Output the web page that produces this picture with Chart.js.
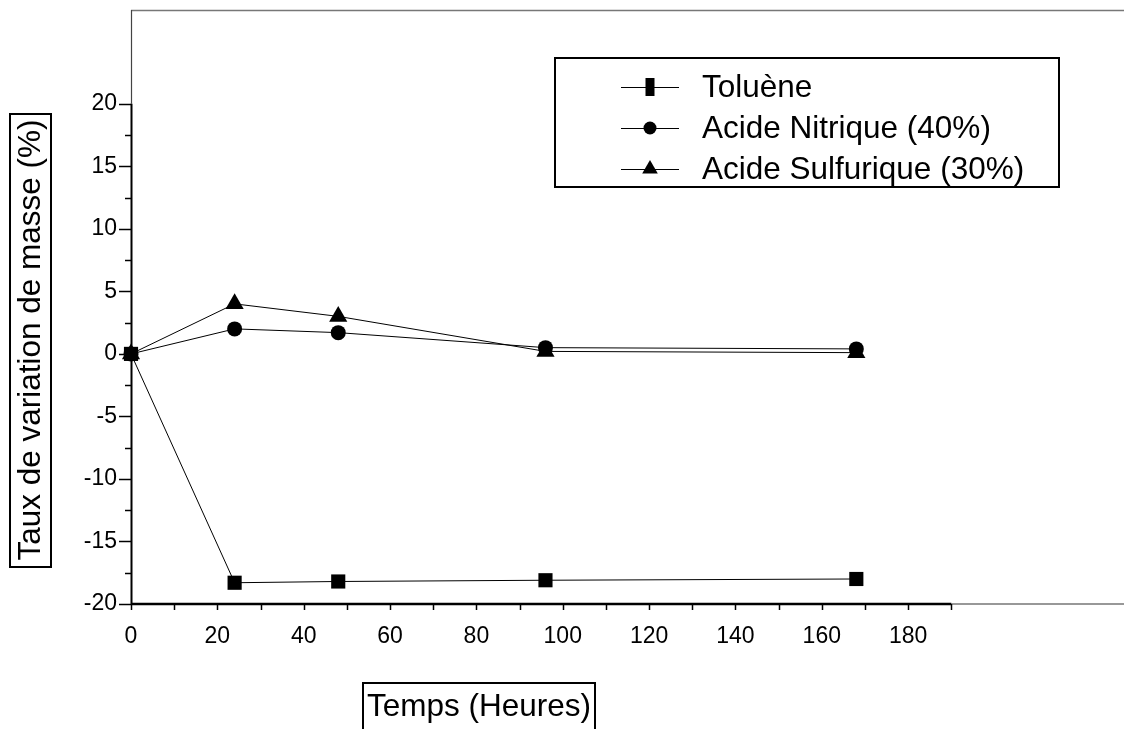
<!DOCTYPE html>
<html>
<head>
<meta charset="utf-8">
<script src="https://cdn.jsdelivr.net/npm/chart.js@4.4.1/dist/chart.umd.min.js"></script>
<style>
  html, body { margin: 0; padding: 0; background: #fff; }
  #wrap { width: 1124px; height: 729px; }
</style>
</head>
<body>
<div id="wrap"><canvas id="chart" width="1124" height="729"></canvas></div>
<script>
// Mesures : taux de variation de masse (%) en fonction du temps (heures)
const heures = [0, 24, 48, 96, 168];
const toluene = [0, -18.3, -18.2, -18.1, -18.0];
const acideNitrique = [0, 2.0, 1.7, 0.5, 0.4];
const acideSulfurique = [0, 4.0, 3.0, 0.2, 0.1];
const seriesLabels = ['Toluène', 'Acide Nitrique (40%)', 'Acide Sulfurique (30%)'];

// graduations (majeures étiquetées, mineures sans texte)
const xTicks = [0, 10, 20, 30, 40, 50, 60, 70, 80, 90, 100, 110, 120, 130, 140, 150, 160, 170, 180, 190];
const yTicks = [-20, -17.5, -15, -12.5, -10, -7.5, -5, -2.5, 0, 2.5, 5, 7.5, 10, 12.5, 15, 17.5, 20];
const xTitle = 'Temps (Heures)';
const yTitle = 'Taux de variation de masse (%)';

const FONT = '"Liberation Sans", Arial, sans-serif';

function points(values) {
    return heures.map((h, i) => ({ x: h, y: values[i] }));
}

function ligne(ctx, x1, y1, x2, y2) {
    ctx.beginPath();
    ctx.moveTo(x1, y1);
    ctx.lineTo(x2, y2);
    ctx.stroke();
}

// Symbole de légende
function symbole(ctx, style, x, y) {
    ctx.fillStyle = '#000';
    ctx.beginPath();
    if (style === 'rect') {
        ctx.rect(x - 4.5, y - 9, 9, 18);
    } else if (style === 'circle') {
        ctx.arc(x, y, 6.5, 0, Math.PI * 2);
    } else {
        ctx.moveTo(x, y - 9);
        ctx.lineTo(x + 7.8, y + 4.5);
        ctx.lineTo(x - 7.8, y + 4.5);
        ctx.closePath();
    }
    ctx.fill();
}

// pas de marge automatique autour des étiquettes extrêmes
function sansMarge(s) {
    s.paddingTop = 0;
    s.paddingBottom = 0;
    s.paddingLeft = 0;
    s.paddingRight = 0;
}

// Axes, graduations et cadre
const cadre = {
    id: 'cadre',
    beforeDatasetsDraw(chart) {
        const { ctx, chartArea: a, scales: { x, y } } = chart;
        ctx.save();
        ctx.lineCap = 'butt';

        // bord supérieur
        ctx.strokeStyle = '#777';
        ctx.lineWidth = 1.5;
        ligne(ctx, a.left, a.top + 0.5, a.right, a.top + 0.5);

        // axe X : épais jusqu'à la dernière graduation, fin ensuite
        const xEnd = x.getPixelForValue(xTicks[xTicks.length - 1]);
        ctx.strokeStyle = '#333';
        ctx.lineWidth = 1.2;
        ligne(ctx, xEnd, a.bottom, a.right, a.bottom);
        ctx.strokeStyle = '#000';
        ctx.lineWidth = 2.5;
        ligne(ctx, a.left, a.bottom, xEnd, a.bottom);

        // axe Y : épais jusqu'à 20, fin au-dessus
        const yEnd = y.getPixelForValue(yTicks[yTicks.length - 1]);
        ctx.strokeStyle = '#444';
        ctx.lineWidth = 1.2;
        ligne(ctx, a.left + 0.5, a.top, a.left + 0.5, yEnd);
        ctx.strokeStyle = '#000';
        ctx.lineWidth = 2;
        ligne(ctx, a.left + 0.5, yEnd, a.left + 0.5, a.bottom);

        // graduations
        ctx.lineWidth = 1.5;
        x.ticks.forEach(t => {
            const px = Math.round(x.getPixelForValue(t.value)) + 0.5;
            ligne(ctx, px, a.bottom, px, a.bottom + 6);
        });
        y.ticks.forEach(t => {
            const py = Math.round(y.getPixelForValue(t.value)) + 0.5;
            const len = t.value % 5 === 0 ? 12 : 6;
            ligne(ctx, a.left - len, py, a.left, py);
        });
        ctx.restore();
    },
    afterDraw(chart) {
        const { ctx } = chart;
        ctx.save();
        ctx.strokeStyle = '#000';
        ctx.fillStyle = '#000';
        ctx.font = '31.5px ' + FONT;
        ctx.textBaseline = 'middle';

        // titre de l'axe X dans son encadré
        ctx.lineWidth = 2;
        ctx.textAlign = 'center';
        ctx.fillText(xTitle, 479, 707);
        ctx.beginPath();
        ctx.moveTo(363, 740);
        ctx.lineTo(363, 683);
        ctx.lineTo(595, 683);
        ctx.lineTo(595, 740);
        ctx.stroke();

        // titre de l'axe Y
        ctx.strokeRect(10, 114, 41, 453);
        ctx.save();
        ctx.translate(31, 340);
        ctx.rotate(-Math.PI / 2);
        ctx.fillText(yTitle, 0, 0);
        ctx.restore();

        // légende
        ctx.lineWidth = 2;
        ctx.strokeRect(555, 58, 504, 129);
        ctx.textAlign = 'left';
        ctx.lineWidth = 1;
        chart.data.datasets.forEach((ds, i) => {
            const ry = 87 + i * 41;
            ctx.strokeStyle = '#000';
            ligne(ctx, 621, ry + 0.5, 679, ry + 0.5);
            symbole(ctx, ds.pointStyle, 650, ry);
            ctx.fillStyle = '#000';
            ctx.fillText(ds.label, 702, ry + 1);
        });
        ctx.restore();
    }
};

const serie = (label, values, style, radius) => ({
    label: label,
    data: points(values),
    showLine: true,
    borderColor: '#000',
    borderWidth: 1,
    backgroundColor: '#000',
    pointStyle: style,
    pointRadius: radius,
    pointHoverRadius: radius,
    pointBackgroundColor: '#000',
    pointBorderColor: '#000',
    pointBorderWidth: 0,
    tension: 0,
    clip: false
});

new Chart(document.getElementById('chart'), {
    type: 'scatter',
    data: {
        datasets: [
            serie(seriesLabels[0], toluene, 'rect', 10),
            serie(seriesLabels[1], acideNitrique, 'circle', 7.5),
            serie(seriesLabels[2], acideSulfurique, 'triangle', 10.5)
        ]
    },
    options: {
        responsive: false,
        animation: false,
        layout: { autoPadding: false, padding: { top: 10, right: 0, bottom: 0, left: 0 } },
        plugins: {
            legend: { display: false },
            tooltip: { enabled: false }
        },
        scales: {
            x: {
                type: 'linear',
                min: 0,
                max: 230,
                grid: { display: false, drawTicks: false },
                border: { display: false },
                afterBuildTicks: s => { s.ticks = xTicks.map(v => ({ value: v })); },
                afterFit: s => { s.height = 125; sansMarge(s); },
                ticks: {
                    autoSkip: false,
                    maxRotation: 0,
                    padding: 19,
                    color: '#000',
                    font: { family: FONT, size: 23 },
                    callback: v => (v % 20 === 0 && v <= 180) ? String(v) : ''
                }
            },
            y: {
                type: 'linear',
                min: -20,
                max: 27.5,
                grid: { display: false, drawTicks: false },
                border: { display: false },
                afterBuildTicks: s => { s.ticks = yTicks.map(v => ({ value: v })); },
                afterFit: s => { s.width = 131; sansMarge(s); },
                ticks: {
                    autoSkip: false,
                    padding: 14,
                    color: '#000',
                    font: { family: FONT, size: 23 },
                    callback: v => v % 5 === 0 ? String(v) : ''
                }
            }
        }
    },
    plugins: [cadre]
});
</script>
</body>
</html>
